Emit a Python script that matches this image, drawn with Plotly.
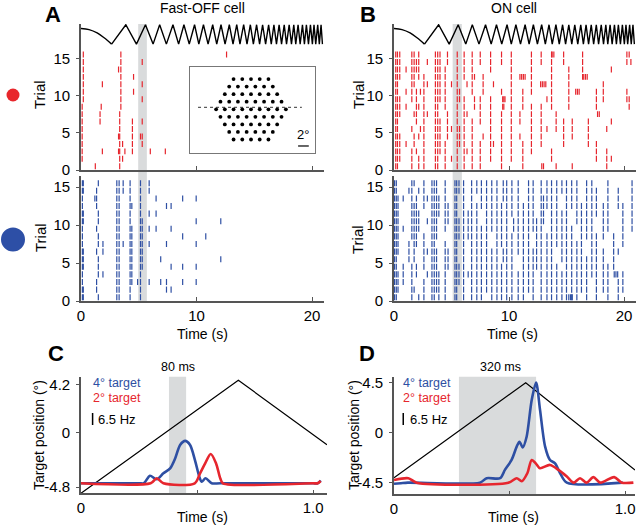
import plotly.graph_objects as go

W, H = 640, 527
FONT = "Liberation Sans, Arial, sans-serif"
RED = "#e6262e"
BLUE = "#2e4fa3"
SHADE = "#d9dbdc"
AXIS = "#555555"

# stimulus trace drawn above the top rasters (trial-axis units)
arc_t = [0.0, 0.7, 1.4, 2.0, 2.65]
arc_y = [19.0, 18.85, 18.4, 17.75, 16.9]
zig_t = [2.65, 3.88, 4.8, 5.58, 6.24, 6.81, 7.39, 7.96, 8.45, 8.91, 9.37, 9.83,
         10.2, 10.6, 11.0, 11.4, 11.75, 12.12, 12.47, 12.84, 13.16, 13.48, 13.76,
         14.08, 14.37, 14.66, 14.92, 15.2, 15.46, 15.72, 15.98, 16.24, 16.47, 16.7,
         16.92, 17.15, 17.36, 17.59, 17.79, 18.02, 18.22, 18.42, 18.59, 18.79,
         18.97, 19.17, 19.34, 19.51, 19.69, 19.86, 20.03, 20.17, 20.32, 20.49,
         20.63, 20.78, 20.9]
zig_lo, zig_hi = 16.9, 19.5

shade_a = [4.95, 5.7]
shade_b = [5.1, 5.9]

# raster columns: (spike time in s, trials that fired)
off_red = [
    (0.10, "1-8"), (0.20, "9-15"), (1.24, "0"), (1.65, "6-7"), (1.75, "8"),
    (1.85, "2,11"), (3.25, "2,4,13"), (3.35, "0-7"), (3.45, "8-15"), (3.60, "1,3"),
    (3.80, "2"), (4.45, "2-6"), (4.55, "10,12"), (5.15, "4"),
    (5.30, "3-4,6,9,11,14"), (6.00, "2"), (7.30, "2"), (12.6, "15"),
]
off_blue = [
    (0.12, "0-15"), (0.20, "0-1,4-6,10-11,14-15"), (1.20, "13"),
    (1.35, "1-2,6,9,12-14"), (1.50, "0,3-5,7-8,10-11,15"), (1.90, "3,6-7"),
    (3.10, "0-15"), (3.30, "0-15"), (3.65, "7,14-15"), (4.25, "0-15"),
    (4.40, "2-9,12"), (4.90, "2"), (5.15, "0-15"), (5.30, "4-10"),
    (5.90, "2,7,9,11,14-15"), (6.50, "9,11,13"), (6.90, "2,5"), (7.40, "1,2,7,12"),
    (7.80, "1,4,9,12"), (8.80, "2,4,8,13"), (9.97, "2,4,7,10,13"), (10.8, "8"),
    (12.1, "5,10"),
]
on_red = [
    (0.15, "0-15"), (0.30, "0-15"), (0.50, "1-4,7-9,12-15"), (1.05, "3,8,10,13"),
    (1.55, "0-2,5,9-15"), (1.75, "3-4,7,11-15"), (1.95, "2,6-10,13-14"),
    (2.15, "0-1,4,8,12-15"), (2.30, "5,10"), (2.60, "0-12"), (2.90, "7,11,14"),
    (3.60, "0-15"), (3.80, "0-15"), (4.00, "2-6,9-15"), (4.45, "0-3,8-13"),
    (4.65, "4-7,14-15"), (5.00, "1,5,11"), (5.50, "0-15"), (5.70, "3-5,9-10"),
    (6.10, "0-9,12-15"), (6.35, "2,7,11"), (6.80, "0-6,10-15"), (7.00, "8,9,12"),
    (7.50, "0-3,6-9,14-15"), (7.75, "4,10-12"), (8.40, "1-9,13-15"), (8.65, "3,11"),
    (9.35, "0-7,10,14-15"), (9.45, "8-9"), (9.55, "8-9"), (9.65, "9"),
    (10.2, "1-15"), (10.95, "4,6-7,12"), (11.1, "12"), (11.2, "0-3,8-10"),
    (11.25, "12"), (11.4, "12"), (11.95, "2-8,10-15"), (12.75, "11"),
    (12.8, "3-8,14-15"), (12.85, "0"), (12.9, "11"), (13.0, "0"), (13.05, "11"),
    (13.2, "11"), (13.3, "5,9"), (13.7, "1-2,8-15"), (13.75, "15"), (13.9, "15"),
    (14.1, "0,5-7"), (14.75, "3-6,14-15"), (15.2, "8-13"), (15.5, "0,4-6"),
    (15.8, "10"), (15.95, "10"), (16.1, "10"), (16.4, "12-15"), (16.5, "12"),
    (16.65, "12"), (16.8, "12"), (16.9, "3-6"), (17.6, "1-3,8-10"), (17.7, "7"),
    (17.85, "7"), (18.2, "9-11"), (18.5, "0-2,5"), (18.9, "1,6,13"),
    (20.25, "9-10,14-15"), (20.45, "8-9,15"), (20.6, "14"),
]
on_blue = [
    (0.05, "0-15"), (0.20, "0-15"), (0.35, "1-3,6-13"), (0.80, "2-4,9,13"),
    (1.30, "5-7,14"), (1.55, "0-4,8-15"), (1.75, "1,5-12,15"), (1.95, "3-4,7-13"),
    (2.15, "0,9-11,14"), (2.60, "0-2,4-8,12-15"), (2.90, "3,6,10,13"),
    (3.30, "0-15"), (3.50, "0-15"), (3.70, "1-6,8-15"), (3.90, "0-3,11-13"),
    (4.45, "0-7,9-15"), (4.70, "4-6,10-12"), (5.30, "0-15"), (5.45, "0-15"),
    (5.65, "2-4,8-10,14-15"), (6.05, "0-15"), (6.45, "3,8-11"), (6.75, "0-15"),
    (7.20, "0-12,14-15"), (7.60, "0-9,12-15"), (8.05, "1-15"), (8.50, "0-6,9-15"),
    (8.95, "0-15"), (9.35, "0-4,7-12"), (9.50, "5-6,13-15"), (9.80, "0-15"),
    (10.25, "0-8,11-15"), (10.4, "9-10"), (10.8, "0-3,6-15"), (11.25, "0-12"),
    (11.7, "1-15"), (12.1, "0-6,9-15"), (12.4, "4-10"), (12.8, "0-15"),
    (13.0, "10-13"), (13.3, "0-8,12-15"), (13.7, "0-15"), (14.15, "0-4,7-15"),
    (14.6, "0-3,5-11,14-15"), (15.0, "0-15"), (15.2, "0"), (15.35, "0"),
    (15.45, "0-9,12-15"), (15.5, "0"), (15.9, "0-7,10-15"), (16.3, "1-12"),
    (16.75, "0-5,8-15"), (17.2, "3-15"), (17.6, "0-8,11-14"), (18.2, "1-6,8-12"),
    (18.6, "0-4,9-15"), (19.1, "4-8"), (19.15, "3"), (19.3, "3"), (19.45, "3"),
    (19.5, "0-2,6,12-14"), (19.9, "1-3,7-12"), (20.7, "9-15"),
]

# panel C (Fast-OFF) : target trajectory and firing rates
tri_c_t = [0.0, 0.678, 1.06]
tri_c_y = [-5.35, 4.57, -1.1]
c_t_blue = [0, 0.25, 0.271, 0.297, 0.326, 0.355, 0.384, 0.406, 0.427, 0.449, 0.470,
            0.491, 0.51, 0.52, 0.537, 0.563, 0.6, 1.0, 1.02, 1.033]
c_hz_blue = [0, 0, 0, 4.1, 2.2, 5.4, 8.1, 13.6, 20.8, 23.0, 20.8, 12.6, 3.5, 0.8,
             2.7, 0, 0, 0, 0, 1.5]
c_t_red = [0, 0.30, 0.326, 0.355, 0.49, 0.513, 0.535, 0.559, 0.582, 0.60, 0.612,
           1.0, 1.02, 1.033]
c_hz_red = [0, 0, 2.7, 0, 0, 5.4, 10.8, 15.9, 10.8, 2.7, 0, 0, 0, 1.2]
base_c, bar_c, bar_c_bottom = -4.47, 1.05, 0.64
win_c = [0.379, 0.453]

# panel D (ON)
tri_d_t = [0.0, 0.570, 1.043]
tri_d_y = [-4.05, 4.5, -3.36]
d_t_blue = [0, 0.03, 0.06, 0.372, 0.401, 0.459, 0.480, 0.509, 0.531, 0.543, 0.557,
            0.574, 0.596, 0.615, 0.632, 0.654, 0.675, 0.697, 0.719, 0.748, 0.99]
d_hz_blue = [-0.6, -0.3, 0, 0, 2.4, 2.4, 6.9, 12.3, 19.5, 22.2, 19.1, 24.9, 44.8,
             54.2, 39.4, 19.5, 12.3, 10.5, 5.1, 0, 0]
d_t_red = [0, 0.062, 0.098, 0.495, 0.531, 0.553, 0.577, 0.596, 0.615, 0.632, 0.675,
           0.712, 0.748, 0.777, 0.805, 0.834, 0.863, 0.892, 0.953, 0.986, 1.036]
d_hz_red = [1.4, 2.4, 0, 0, 2.4, 0.8, 5.1, 12.3, 10.2, 7.8, 9.6, 6.9, 3.3, 0, 2.4,
            0, 3.0, 0, 3.0, 0, 0]
base_d, bar_d, bar_d_bottom = -4.5, 1.08, 0.69
win_d = [0.281, 0.615]

# inset: hexagonal target layout (dots per row, spacing in deg)
hex_rows = [5, 6, 7, 8, 9, 8, 7, 6, 5]
hex_step = 1.63


def trial_list(spec):
    out = []
    for part in spec.split(","):
        if "-" in part:
            a, b = part.split("-")
            out.extend(range(int(a), int(b) + 1))
        else:
            out.append(int(part))
    return out


def raster(cols):
    xs, ys = [], []
    for t, spec in cols:
        for k in trial_list(spec):
            xs += [t, t, None]
            ys += [k + 0.1, k + 0.9, None]
    return xs, ys


def to_pos(hz, base, bar):
    return [base + h * bar / 6.5 for h in hz]


def px_x(a, b):
    return [a / W, b / W]


def px_y(top, bottom):
    return [1 - bottom / H, 1 - top / H]


fig = go.Figure()

# rasters
for cols, color, xa, ya in [(off_red, RED, "x", "y"), (off_blue, BLUE, "x2", "y2"),
                            (on_red, RED, "x3", "y3"), (on_blue, BLUE, "x4", "y4")]:
    xs, ys = raster(cols)
    fig.add_trace(go.Scatter(x=xs, y=ys, mode="lines", line=dict(color=color, width=1.2),
                             xaxis=xa, yaxis=ya, hoverinfo="skip"))

# stimulus above top rasters
zig_y = [zig_hi if i % 2 else zig_lo for i in range(len(zig_t))]
for xa, ya in [("x", "y"), ("x3", "y3")]:
    fig.add_trace(go.Scatter(x=arc_t, y=arc_y, mode="lines", line=dict(color="black", width=1.4, shape="spline"),
                             xaxis=xa, yaxis=ya, hoverinfo="skip"))
    fig.add_trace(go.Scatter(x=zig_t, y=zig_y, mode="lines", line=dict(color="black", width=1.4),
                             xaxis=xa, yaxis=ya, hoverinfo="skip"))

# panels C and D
for tt, ty_, tb, hb, tr, hr, base, bar, xa, ya in [
        (tri_c_t, tri_c_y, c_t_blue, c_hz_blue, c_t_red, c_hz_red, base_c, bar_c, "x5", "y5"),
        (tri_d_t, tri_d_y, d_t_blue, d_hz_blue, d_t_red, d_hz_red, base_d, bar_d, "x6", "y6")]:
    fig.add_trace(go.Scatter(x=tt, y=ty_, mode="lines", line=dict(color="black", width=1.2),
                             xaxis=xa, yaxis=ya, hoverinfo="skip"))
    fig.add_trace(go.Scatter(x=tb, y=to_pos(hb, base, bar), mode="lines",
                             line=dict(color=BLUE, width=2.6, shape="spline", smoothing=0.8),
                             xaxis=xa, yaxis=ya, hoverinfo="skip"))
    fig.add_trace(go.Scatter(x=tr, y=to_pos(hr, base, bar), mode="lines",
                             line=dict(color=RED, width=2.6, shape="spline", smoothing=0.8),
                             xaxis=xa, yaxis=ya, hoverinfo="skip"))

# scale bars (6.5 Hz)
fig.add_trace(go.Scatter(x=[0.05, 0.05], y=[bar_c_bottom, bar_c_bottom + bar_c], mode="lines",
                         line=dict(color="black", width=1.5), xaxis="x5", yaxis="y5", hoverinfo="skip"))
fig.add_trace(go.Scatter(x=[0.04, 0.04], y=[bar_d_bottom, bar_d_bottom + bar_d], mode="lines",
                         line=dict(color="black", width=1.5), xaxis="x6", yaxis="y6", hoverinfo="skip"))

# inset
hx, hy = [], []
mid = (len(hex_rows) - 1) / 2
for r, n in enumerate(hex_rows):
    for j in range(n):
        hx.append((j - (n - 1) / 2) * hex_step)
        hy.append((mid - r) * hex_step * 0.866)
fig.add_trace(go.Scatter(x=[-9.9, 9.5], y=[0.37, 0.37], mode="lines",
                         line=dict(color="#333", width=1, dash="dot"), xaxis="x7", yaxis="y7", hoverinfo="skip"))
fig.add_trace(go.Scatter(x=hx, y=hy, mode="markers", marker=dict(color="black", size=3.8),
                         xaxis="x7", yaxis="y7", hoverinfo="skip"))
fig.add_trace(go.Scatter(x=[8.8, 10.8], y=[-6.86, -6.86], mode="lines",
                         line=dict(color="black", width=1.2), xaxis="x7", yaxis="y7", hoverinfo="skip"))

tickfont = dict(family=FONT, size=15, color="black")


def xax(dom, rng, vals, text, anchor):
    return dict(domain=dom, range=rng, anchor=anchor, showline=True, linecolor=AXIS, linewidth=1.6,
                ticks="inside", ticklen=4, tickcolor=AXIS, tickvals=vals, ticktext=text,
                showticklabels=text is not None, showgrid=False, zeroline=False,
                tickfont=tickfont, fixedrange=True, automargin=False)


def yax(dom, rng, vals, text, anchor):
    return dict(domain=dom, range=rng, anchor=anchor, showline=True, linecolor=AXIS, linewidth=1.6,
                ticks="outside", ticklen=3, tickcolor=AXIS, tickvals=vals, ticktext=text,
                showgrid=False, zeroline=False, tickfont=tickfont, ticklabelstandoff=3,
                fixedrange=True, automargin=False)


rt = [0, 10, 20]
rtl = ["0", "10", "20"]
ty = [0, 5, 10, 15]
tyl = ["0", "5", "10", "15"]
xa_a = px_x(81, 323.6)
xa_b = px_x(394, 635.5)
y_top = px_y(24, 170)
y_bot = px_y(176, 301)

inset_axis = dict(showline=True, mirror=True, linecolor="#777", linewidth=1, showticklabels=False,
                  ticks="", showgrid=False, zeroline=False, fixedrange=True, automargin=False)

fig.update_layout(
    width=W, height=H, margin=dict(l=0, r=0, t=0, b=0, autoexpand=False),
    paper_bgcolor="white", plot_bgcolor="rgba(0,0,0,0)", showlegend=False,
    font=dict(family=FONT, color="black"),
    xaxis=xax(xa_a, [0, 21], rt, None, "y"),
    yaxis=yax(y_top, [0, 19.6], ty, tyl, "x"),
    xaxis2=xax(xa_a, [0, 21], rt, rtl, "y2"),
    yaxis2=yax(y_bot, [0, 16.45], ty, tyl, "x2"),
    xaxis3=xax(xa_b, [0, 21], rt, None, "y3"),
    yaxis3=yax(y_top, [0, 19.6], ty, tyl, "x3"),
    xaxis4=xax(xa_b, [0, 21], rt, rtl, "y4"),
    yaxis4=yax(y_bot, [0, 16.45], ty, tyl, "x4"),
    xaxis5=xax(px_x(81, 327), [0, 1.06], [0, 0.5, 1.0], ["0", "", "1.0"], "y5"),
    yaxis5=yax(px_y(376.7, 493.3), [-5.35, 4.88], [-4.8, 0, 4.2], ["-4.8", "0", "4.2"], "x5"),
    xaxis6=xax(px_x(394, 635), [0, 1.043], [0, 0.5, 1.0], ["0", "", "1.0"], "y6"),
    yaxis6=yax(px_y(376.7, 494.3), [-5.55, 5.04], [-4.5, 0, 4.5], ["-4.5", "0", "4.5"], "x6"),
    xaxis7=dict(domain=px_x(190, 315), range=[-11.4, 11.96], anchor="y7", **inset_axis),
    yaxis7=dict(domain=px_y(67, 153), range=[-8.17, 7.9], anchor="x7", **inset_axis),
)

shapes = [
    dict(type="rect", xref="x", yref="paper", x0=shade_a[0], x1=shade_a[1],
         y0=1 - 301 / H, y1=1 - 24 / H, fillcolor=SHADE, line_width=0, layer="below"),
    dict(type="rect", xref="x3", yref="paper", x0=shade_b[0], x1=shade_b[1],
         y0=1 - 301 / H, y1=1 - 24 / H, fillcolor=SHADE, line_width=0, layer="below"),
    dict(type="rect", xref="x5", yref="y5 domain", x0=win_c[0], x1=win_c[1], y0=0, y1=1,
         fillcolor=SHADE, line_width=0, layer="below"),
    dict(type="rect", xref="x6", yref="y6 domain", x0=win_d[0], x1=win_d[1], y0=0, y1=1,
         fillcolor=SHADE, line_width=0, layer="below"),
    dict(type="circle", xref="paper", yref="paper", x0=6.5 / W, x1=19.5 / W,
         y0=1 - 101.5 / H, y1=1 - 88.5 / H, fillcolor="#e8262b", line_width=0),
    dict(type="circle", xref="paper", yref="paper", x0=1 / W, x1=25 / W,
         y0=1 - 251.5 / H, y1=1 - 227.5 / H, fillcolor="#2d4fa6", line_width=0),
]
fig.update_layout(shapes=shapes)


def ann(text, x, y, size=14, color="black", angle=0, xanchor="center"):
    return dict(text=text, x=x / W, y=1 - y / H, xref="paper", yref="paper", showarrow=False,
                font=dict(family=FONT, size=size, color=color), textangle=angle,
                xanchor=xanchor, yanchor="middle", borderpad=0)


annotations = [
    ann("<b>A</b>", 53, 15, 22), ann("<b>B</b>", 368, 14, 22),
    ann("<b>C</b>", 56, 353, 22), ann("<b>D</b>", 367, 353, 22),
    ann("Fast-OFF cell", 202, 8, 14), ann("ON cell", 514, 8, 14),
    ann("Trial", 39, 95, 15, angle=-90), ann("Trial", 40, 238, 15, angle=-90),
    ann("Trial", 358, 95, 15, angle=-90), ann("Trial", 358, 240, 15, angle=-90),
    ann("Time (s)", 202, 334, 14), ann("Time (s)", 512, 334, 14),
    ann("Target position (°)", 39, 435, 14, angle=-90),
    ann("Target position (°)", 354, 435, 14, angle=-90),
    ann("Time (s)", 202, 517, 14), ann("Time (s)", 513, 517, 14),
    ann("80 ms", 178, 367, 12.5), ann("320 ms", 500, 367, 12.5),
    ann("4° target", 92, 383, 12.5, BLUE, xanchor="left"),
    ann("2° target", 92, 398, 12.5, RED, xanchor="left"),
    ann("6.5 Hz", 97, 419, 13, xanchor="left"),
    ann("4° target", 402, 383, 12.5, BLUE, xanchor="left"),
    ann("2° target", 402, 398, 12.5, RED, xanchor="left"),
    ann("6.5 Hz", 409, 419, 13, xanchor="left"),
    dict(text="2°", x=9.8, y=-4.8, xref="x7", yref="y7", showarrow=False,
         font=dict(family=FONT, size=13, color="black")),
]
fig.update_layout(annotations=annotations)

fig.write_html("out.html", config={"displayModeBar": False},
               post_script="document.body.style.margin='0';")
